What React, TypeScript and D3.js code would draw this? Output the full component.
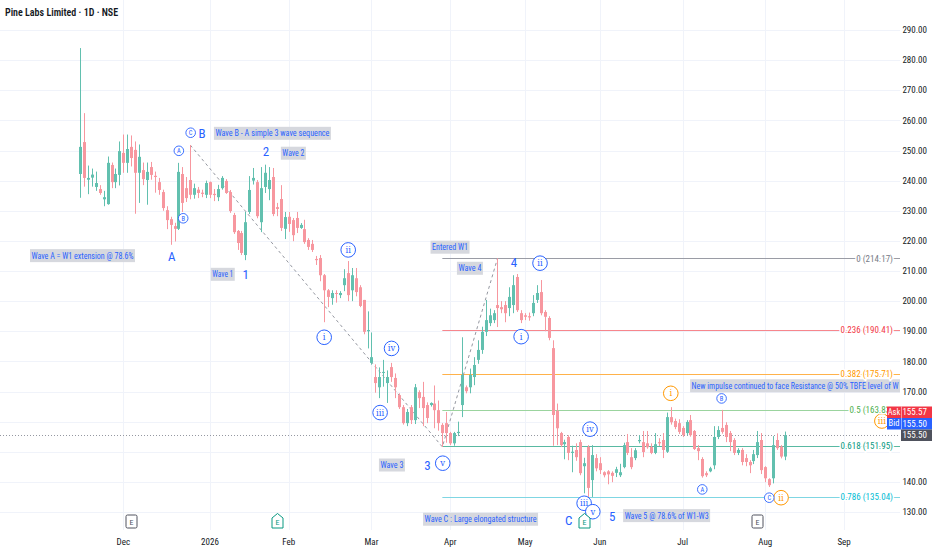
import { useEffect, useRef } from 'react';
import * as d3 from 'd3';

// daily candles, one per trading bar
const opens = [
  242.2, 252.8, 240.3, 241.0, 237.9, 237.2, 233.8, 232.2, 245.2, 239.5,
  241.9, 249.2, 245.9, 251.2, 250.2, 242.6, 243.5, 240.2, 244.5, 241.6,
  239.5, 236.2, 230.2, 227.2, 224.9, 224.0, 242.2, 237.5, 240.2, 235.3,
  237.0, 236.0, 235.3, 239.5, 235.6, 234.5, 237.5, 239.9, 236.2, 228.6,
  223.3, 222.6, 215.3, 229.6, 240.0, 239.5, 226.2, 237.9, 237.2, 241.2,
  231.2, 233.9, 224.0, 228.0, 226.9, 227.6, 224.3, 223.9, 220.3, 219.0,
  214.0, 214.3, 208.6, 203.6, 201.0, 202.7, 202.0, 205.3, 209.3, 203.6,
  207.6, 204.6, 200.4, 190.0, 179.5, 174.8, 171.4, 176.2, 172.8, 178.1,
  174.5, 168.8, 164.8, 159.5, 164.8, 160.5, 169.8, 168.2, 165.5, 165.5,
  166.0, 163.8, 158.9, 159.5, 156.2, 152.8, 156.2, 165.5, 171.4, 171.4,
  174.8, 180.5, 183.8, 189.8, 192.7, 193.7, 198.7, 198.0, 198.7, 197.7,
  198.7, 208.0, 196.0, 195.3, 195.0, 196.0, 200.4, 203.0, 196.4, 194.4,
  184.4, 163.6, 156.2, 152.5, 154.9, 149.6, 150.6, 153.2, 145.2, 151.6,
  140.6, 147.9, 146.2, 143.2, 143.5, 143.0, 143.0, 142.2, 144.9, 153.2,
  148.2, 147.9, 153.5, 153.2, 152.8, 151.6, 149.6, 153.2, 153.9, 150.0,
  161.5, 160.2, 159.5, 157.9, 156.2, 160.5, 156.9, 151.2, 147.6, 142.9,
  143.5, 145.5, 154.9, 157.9, 158.9, 156.2, 153.9, 149.6, 150.6, 147.9,
  146.6, 146.9, 148.9, 153.9, 144.9, 140.9, 141.2, 153.9, 151.7, 148.4,
];
const highs = [
  284.0, 262.4, 245.0, 244.0, 243.0, 238.5, 236.6, 248.0, 246.0, 244.0,
  253.0, 255.3, 255.3, 255.0, 253.0, 252.0, 246.0, 246.0, 246.2, 243.0,
  240.9, 237.0, 231.5, 228.0, 226.0, 245.9, 244.5, 241.2, 251.8, 239.0,
  237.9, 237.0, 240.0, 239.7, 237.2, 238.6, 241.5, 240.5, 236.9, 229.3,
  223.6, 223.3, 229.6, 241.5, 244.2, 240.2, 244.5, 245.3, 244.5, 244.2,
  232.6, 238.5, 229.6, 229.6, 227.6, 229.6, 225.9, 227.0, 220.9, 220.3,
  215.0, 215.3, 209.0, 204.0, 203.6, 203.6, 203.3, 210.6, 213.3, 211.0,
  211.0, 205.3, 200.4, 196.6, 189.6, 179.0, 178.0, 180.5, 177.0, 179.5,
  176.0, 169.4, 165.5, 164.2, 165.5, 172.5, 170.4, 173.2, 166.4, 166.4,
  172.0, 167.0, 159.5, 163.2, 156.6, 156.6, 160.0, 188.0, 172.0, 177.6,
  181.4, 187.0, 191.5, 200.4, 197.5, 197.0, 214.2, 200.0, 200.0, 204.6,
  208.6, 209.0, 197.0, 196.0, 196.2, 202.0, 205.3, 207.0, 197.0, 195.0,
  187.0, 166.0, 156.6, 154.0, 155.5, 152.0, 152.8, 154.0, 148.0, 152.2,
  152.2, 149.2, 148.2, 143.5, 143.9, 143.5, 145.0, 146.0, 153.0, 155.9,
  151.2, 151.2, 155.5, 156.9, 156.9, 152.8, 156.2, 154.5, 156.2, 163.0,
  164.8, 161.0, 160.8, 158.5, 160.5, 162.2, 157.2, 152.2, 148.2, 143.5,
  145.0, 158.5, 158.5, 163.9, 159.8, 156.9, 154.5, 151.2, 151.2, 149.2,
  147.2, 150.6, 156.9, 156.2, 145.2, 141.2, 155.2, 156.1, 152.2, 156.7,
];
const lows = [
  234.3, 238.0, 235.5, 238.0, 236.6, 235.3, 231.5, 232.0, 237.5, 237.5,
  238.4, 242.6, 242.6, 244.7, 229.0, 232.6, 238.5, 232.0, 240.3, 236.0,
  235.3, 230.0, 223.9, 218.7, 219.8, 223.6, 229.6, 232.9, 233.8, 234.0,
  234.2, 234.5, 234.2, 234.2, 233.2, 233.2, 237.0, 235.6, 229.3, 222.3,
  217.0, 215.3, 213.6, 228.9, 238.7, 227.5, 222.9, 235.9, 233.5, 228.2,
  228.2, 223.3, 220.6, 223.0, 219.9, 222.6, 224.0, 219.0, 217.0, 216.3,
  212.0, 206.6, 193.0, 198.0, 198.8, 199.5, 201.0, 203.3, 200.0, 200.0,
  201.6, 198.0, 189.0, 184.3, 178.9, 169.6, 167.8, 171.6, 166.2, 173.2,
  167.8, 164.2, 159.0, 158.5, 159.2, 159.2, 164.5, 158.5, 159.5, 165.0,
  157.8, 157.0, 151.6, 153.0, 152.2, 152.0, 155.2, 161.5, 169.4, 169.4,
  172.1, 179.2, 182.5, 188.4, 191.7, 192.7, 191.4, 196.0, 193.0, 195.0,
  196.0, 196.4, 192.7, 193.7, 193.5, 195.0, 199.4, 195.3, 190.0, 187.0,
  152.0, 152.2, 151.6, 147.5, 147.2, 143.2, 147.0, 142.2, 136.2, 135.0,
  135.0, 143.5, 142.6, 141.5, 139.2, 139.9, 141.6, 141.6, 144.5, 148.9,
  144.2, 147.2, 152.8, 148.2, 151.0, 149.2, 149.2, 151.9, 147.9, 149.6,
  159.0, 157.5, 155.9, 154.9, 155.5, 155.0, 150.6, 147.2, 141.4, 141.6,
  143.2, 144.2, 154.2, 156.0, 153.2, 150.2, 148.9, 148.9, 145.5, 145.2,
  142.9, 145.9, 147.9, 142.6, 139.9, 138.3, 139.5, 150.6, 147.8, 147.2,
];
const closes = [
  251.2, 240.9, 240.9, 242.0, 239.2, 235.9, 234.5, 245.9, 239.5, 242.2,
  249.8, 245.9, 250.5, 247.5, 242.6, 247.9, 240.5, 242.9, 241.9, 241.2,
  236.9, 230.9, 226.9, 225.3, 224.0, 242.9, 232.6, 234.2, 235.3, 237.5,
  235.9, 235.6, 239.2, 235.3, 235.2, 237.2, 240.9, 235.9, 229.9, 222.9,
  219.3, 216.0, 226.2, 236.9, 240.9, 228.2, 237.5, 242.6, 240.2, 228.9,
  230.6, 224.3, 227.9, 225.6, 221.9, 224.3, 225.3, 219.6, 218.0, 217.0,
  213.6, 208.6, 203.6, 201.4, 202.7, 202.4, 202.7, 207.6, 202.0, 208.6,
  203.0, 198.4, 189.8, 190.4, 181.4, 172.8, 174.8, 176.5, 174.8, 174.8,
  171.4, 164.8, 159.5, 163.2, 160.5, 171.4, 167.8, 164.5, 161.2, 166.2,
  163.8, 159.5, 156.2, 156.2, 152.8, 156.2, 156.6, 175.5, 170.1, 175.5,
  178.8, 183.8, 189.8, 193.7, 195.3, 196.0, 197.7, 197.3, 196.0, 201.4,
  205.3, 197.0, 193.7, 194.8, 194.6, 199.4, 202.7, 196.0, 194.8, 187.8,
  162.2, 157.8, 152.2, 153.2, 149.6, 150.0, 148.2, 142.9, 146.2, 138.0,
  148.9, 144.5, 143.9, 142.2, 142.5, 142.0, 144.2, 143.2, 152.2, 149.6,
  144.9, 150.5, 153.9, 149.9, 151.5, 149.6, 152.5, 152.8, 150.6, 161.5,
  159.8, 158.2, 156.6, 155.5, 159.9, 155.5, 150.9, 150.2, 141.9, 142.2,
  144.5, 154.9, 157.2, 156.6, 154.9, 153.2, 149.6, 150.6, 146.6, 146.6,
  145.5, 149.2, 153.2, 143.9, 141.2, 138.9, 152.2, 151.2, 148.4, 155.5,
];

const priceTicks = [130, 140, 150, 160, 170, 180, 190, 200, 210, 220, 230, 240, 250, 260, 270, 280, 290];
const monthLabels = ['Dec', '2026', 'Feb', 'Mar', 'Apr', 'May', 'Jun', 'Jul', 'Aug', 'Sep'];
const monthBars = [11, 33, 53, 74, 94, 113, 132, 153, 174, 194];

const fibLevels = ['0', '0.236', '0.382', '0.5', '0.618', '0.786'];
const fibPrices = [214.17, 190.41, 175.71, 163.83, 151.95, 135.04];
const fibLineColors = ['#9a9ca5', '#f7868c', '#ffb24a', '#9bd49e', '#59b9a2', '#7fd6e3'];
const fibTextColors = ['#787b86', '#f23645', '#ff9800', '#4caf50', '#089981', '#00bcd4'];
const fibStartBar = 92;

const wavePathBars = [28, 92, 106];
const wavePathPrices = [251.8, 151.6, 214.17];

const noteTexts = [
  'Wave A = W1 extension @ 78.6%',
  'Wave B - A simple 3 wave sequence',
  'Wave 2',
  'Wave 1',
  'Entered W1',
  'Wave 4',
  'Wave 3',
  'Wave C : Large elongated structure',
  'Wave 5 @ 78.6% of W1-W3',
  'New impulse continued to face Resistance @ 50% TBFE level of W',
];
const noteBars = [-12.7, 34.0, 51.0, 33.2, 89.0, 95.7, 75.9, 87.1, 137.9, 154.9];
const notePrices = [215.1, 255.7, 249.1, 208.9, 217.9, 210.9, 145.6, 127.6, 128.8, 171.9];
const noteWidths = [105, 117, 25, 24, 39, 26, 26, 115, 87, 210];

const waveLabels = ['A', 'B', '2', '1', '4', '3', 'C', '5'];
const waveBars = [23.3, 31.0, 47.2, 42.1, 110.2, 88.2, 124.1, 135.1];
const wavePrices = [214.75, 255.7, 249.6, 209.0, 212.8, 145.3, 127.3, 128.4];

const romanLabels = ['ii', 'i', 'iv', 'iii', 'v', 'ii', 'i', 'iv', 'iii', 'v', 'i', 'ii', 'iii'];
const romanBars = [68.1, 62.0, 79.1, 76.2, 92.1, 116.8, 112.0, 129.5, 128.0, 130.2, 150.0, 178.0, 203.6];
const romanPrices = [217.0, 188.0, 184.3, 163.0, 146.2, 212.6, 188.2, 157.5, 132.9, 130.1, 169.4, 134.75, 160.2];
const romanOrange = [false, false, false, false, false, false, false, false, false, false, true, true, true];

const letterLabels = ['A', 'B', 'C', 'A', 'B', 'C'];
const letterBars = [25.1, 26.2, 28.1, 158.0, 162.9, 175.0];
const letterPrices = [249.9, 227.5, 255.9, 137.5, 167.7, 134.75];

const earningsBars = [13, 50, 128, 172];
const earningsPast = [true, false, false, true];

const askPrice = 155.57;
const bidPrice = 155.5;
const lastPrice = 155.5;

const W = 932;
const H = 550;
const PLOT_R = 900;
const PLOT_B = 530;
const FONT = '"Liberation Sans Narrow", "Roboto Condensed", "DejaVu Sans Condensed", "Liberation Sans", Arial, sans-serif';
const BLUE = '#2962ff';
const ORANGE = '#ff9800';
const UP = '#62c0af';
const DOWN = '#f7979f';

export default function App() {
  const svgRef = useRef<SVGSVGElement>(null);

  useEffect(() => {
    if (!svgRef.current) return;
    const svg = d3.select(svgRef.current);
    svg.selectAll('*').remove();

    const x = d3.scaleLinear().domain([0, 179]).range([80, 785]);
    const y = d3.scaleLinear().domain([130, 290]).range([512, 30]);
    const lastY = Math.round(y(lastPrice));

    svg.append('rect').attr('width', W).attr('height', H).attr('fill', '#fff');

    const defs = svg.append('defs');
    defs.append('clipPath').attr('id', 'plot-clip')
      .append('rect').attr('x', 0).attr('y', 0).attr('width', PLOT_R).attr('height', PLOT_B);
    // a fib label sitting at the ask/bid tags slides under them
    defs.append('clipPath').attr('id', 'tag-clip')
      .append('rect').attr('x', 0).attr('y', 0).attr('width', 887).attr('height', PLOT_B);

    // grid
    const grid = svg.append('g');
    grid.selectAll('.hg').data(priceTicks).enter().append('line')
      .attr('x1', 0).attr('x2', PLOT_R)
      .attr('y1', d => Math.round(y(d)) + 0.5).attr('y2', d => Math.round(y(d)) + 0.5)
      .attr('stroke', '#f0f3fa');
    grid.selectAll('.vg').data(monthBars).enter().append('line')
      .attr('x1', d => Math.round(x(d)) + 0.5).attr('x2', d => Math.round(x(d)) + 0.5)
      .attr('y1', 0).attr('y2', PLOT_B)
      .attr('stroke', '#f0f3fa');

    const plot = svg.append('g').attr('clip-path', 'url(#plot-clip)');

    // fib retracement lines
    fibPrices.forEach((p, i) => {
      plot.append('line')
        .attr('x1', x(fibStartBar)).attr('x2', PLOT_R)
        .attr('y1', Math.round(y(p)) + 0.5).attr('y2', Math.round(y(p)) + 0.5)
        .attr('stroke', fibLineColors[i]).attr('stroke-width', 1.2);
    });

    // current price dotted line
    plot.append('line')
      .attr('x1', 0).attr('x2', PLOT_R)
      .attr('y1', lastY + 0.5).attr('y2', lastY + 0.5)
      .attr('stroke', '#9598a1').attr('stroke-dasharray', '1 2');

    // dashed wave path
    const wavePath = d3.line<number>()
      .x((_, i) => x(wavePathBars[i]))
      .y(d => y(d));
    plot.append('path')
      .attr('d', wavePath(wavePathPrices))
      .attr('fill', 'none').attr('stroke', '#9598a1')
      .attr('stroke-width', 1).attr('stroke-dasharray', '3 3');

    // candles
    const idx = d3.range(opens.length);
    const candles = plot.append('g');
    candles.selectAll('.wick').data(idx).enter().append('line')
      .attr('x1', i => Math.round(x(i)) + 0.5).attr('x2', i => Math.round(x(i)) + 0.5)
      .attr('y1', i => y(highs[i])).attr('y2', i => y(lows[i]))
      .attr('stroke', i => (closes[i] >= opens[i] ? UP : DOWN)).attr('stroke-width', 1);
    candles.selectAll('.body').data(idx).enter().append('rect')
      .attr('x', i => Math.round(x(i)) - 1)
      .attr('width', 3)
      .attr('y', i => y(Math.max(opens[i], closes[i])))
      .attr('height', i => Math.max(1, Math.abs(y(opens[i]) - y(closes[i]))))
      .attr('fill', i => (closes[i] >= opens[i] ? UP : DOWN));

    // fib labels
    fibPrices.forEach((p, i) => {
      const underTags = y(p) > lastY - 30 && y(p) < lastY + 8;
      svg.append('text')
        .attr('clip-path', underTags ? 'url(#tag-clip)' : null)
        .attr('x', 893).attr('y', y(p)).attr('dy', '0.35em')
        .attr('text-anchor', 'end')
        .attr('font-family', FONT).attr('font-size', 9)
        .attr('fill', fibTextColors[i])
        .attr('stroke', '#fff').attr('stroke-width', 3).attr('paint-order', 'stroke')
        .text(`${fibLevels[i]} (${p.toFixed(2)})`);
    });

    // text notes with grey boxes
    noteTexts.forEach((t, i) => {
      const nx = x(noteBars[i]);
      const ny = y(notePrices[i]);
      plot.append('rect')
        .attr('x', nx).attr('y', ny - 6.5)
        .attr('width', noteWidths[i]).attr('height', 13)
        .attr('fill', '#d6d8de');
      plot.append('text')
        .attr('x', nx + 1.5).attr('y', ny).attr('dy', '0.35em')
        .attr('font-family', FONT).attr('font-size', 9)
        .attr('fill', BLUE)
        .attr('textLength', noteWidths[i] - 3)
        .attr('lengthAdjust', 'spacingAndGlyphs')
        .text(t);
    });

    // wave degree labels
    waveLabels.forEach((t, i) => {
      plot.append('text')
        .attr('x', x(waveBars[i])).attr('y', y(wavePrices[i])).attr('dy', '0.35em')
        .attr('text-anchor', 'middle')
        .attr('font-family', FONT).attr('font-size', 13)
        .attr('fill', BLUE)
        .text(t);
    });

    // circled roman numerals
    romanLabels.forEach((t, i) => {
      const c = romanOrange[i] ? ORANGE : BLUE;
      const cx = x(romanBars[i]);
      const cy = y(romanPrices[i]);
      plot.append('circle').attr('cx', cx).attr('cy', cy).attr('r', 7.3)
        .attr('fill', '#fff').attr('stroke', c).attr('stroke-width', 1);
      plot.append('text')
        .attr('x', cx).attr('y', cy).attr('dy', '0.36em')
        .attr('text-anchor', 'middle')
        .attr('font-family', '"DejaVu Serif", serif').attr('font-size', 8.5)
        .attr('fill', c)
        .text(t);
    });

    // small circled letters
    letterLabels.forEach((t, i) => {
      const cx = x(letterBars[i]);
      const cy = y(letterPrices[i]);
      plot.append('circle').attr('cx', cx).attr('cy', cy).attr('r', 4.8)
        .attr('fill', '#fff').attr('stroke', BLUE).attr('stroke-width', 0.9);
      plot.append('text')
        .attr('x', cx).attr('y', cy).attr('dy', '0.36em')
        .attr('text-anchor', 'middle')
        .attr('font-family', FONT).attr('font-size', 6.5)
        .attr('fill', BLUE)
        .text(t);
    });

    // earnings markers
    earningsBars.forEach((b, i) => {
      const cx = Math.round(x(b)) + 0.5;
      const c = earningsPast[i] ? '#50535e' : '#089981';
      if (earningsPast[i]) {
        svg.append('rect').attr('x', cx - 5.5).attr('y', 515).attr('width', 11).attr('height', 13)
          .attr('rx', 1.5).attr('fill', '#fff').attr('stroke', c);
      } else {
        svg.append('path')
          .attr('d', `M${cx - 5.5},518 L${cx},513.5 L${cx + 5.5},518 L${cx + 5.5},528 L${cx - 5.5},528 Z`)
          .attr('fill', '#fff').attr('stroke', c);
      }
      svg.append('text')
        .attr('x', cx).attr('y', 522).attr('dy', '0.35em')
        .attr('text-anchor', 'middle')
        .attr('font-family', FONT).attr('font-size', 8)
        .attr('fill', c)
        .text('E');
    });

    // price axis (the tags below cover the 160 label, as in the source)
    svg.selectAll('.pt').data(priceTicks.filter(d => Math.abs(y(d) - lastY) > 26)).enter().append('text')
      .attr('x', 927).attr('y', d => y(d)).attr('dy', '0.35em')
      .attr('text-anchor', 'end')
      .attr('font-family', FONT).attr('font-size', 9)
      .attr('fill', '#131722')
      .text(d => d.toFixed(2));

    // time axis
    svg.selectAll('.mt').data(monthBars).enter().append('text')
      .attr('x', d => x(d)).attr('y', 542).attr('dy', '0.35em')
      .attr('text-anchor', 'middle')
      .attr('font-family', FONT).attr('font-size', 9)
      .attr('fill', '#131722')
      .text((_, i) => monthLabels[i]);

    // ask / bid / last price tags
    const tags = [
      { name: 'Ask', value: askPrice, color: '#f23645', cy: lastY - 23 },
      { name: 'Bid', value: bidPrice, color: BLUE, cy: lastY - 11.5 },
    ];
    tags.forEach(t => {
      svg.append('rect').attr('x', 887).attr('y', t.cy - 5.5).attr('width', 45).attr('height', 11.5)
        .attr('fill', t.color);
      svg.append('line').attr('x1', 901.5).attr('x2', 901.5).attr('y1', t.cy - 5.5).attr('y2', t.cy + 6)
        .attr('stroke', '#fff').attr('stroke-opacity', 0.5);
      svg.append('text').attr('x', 894).attr('y', t.cy).attr('dy', '0.35em')
        .attr('text-anchor', 'middle').attr('font-family', FONT).attr('font-size', 8.5)
        .attr('fill', '#fff').text(t.name);
      svg.append('text').attr('x', 927).attr('y', t.cy).attr('dy', '0.35em')
        .attr('text-anchor', 'end').attr('font-family', FONT).attr('font-size', 9)
        .attr('fill', '#fff').text(t.value.toFixed(2));
    });
    svg.append('rect').attr('x', 901).attr('y', lastY - 5.5).attr('width', 31).attr('height', 11.5)
      .attr('fill', '#4f525d');
    svg.append('text').attr('x', 927).attr('y', lastY).attr('dy', '0.35em')
      .attr('text-anchor', 'end').attr('font-family', FONT).attr('font-size', 9)
      .attr('fill', '#fff').text(lastPrice.toFixed(2));

    // title
    svg.append('text')
      .attr('x', 5).attr('y', 12).attr('dy', '0.35em')
      .attr('font-family', FONT).attr('font-size', 10).attr('font-weight', 600)
      .attr('fill', '#131722')
      .text('Pine Labs Limited · 1D · NSE');
  }, []);

  return (
    <svg
      ref={svgRef}
      width={W}
      height={H}
      style={{ position: 'absolute', left: 0, top: 0, display: 'block' }}
    />
  );
}
